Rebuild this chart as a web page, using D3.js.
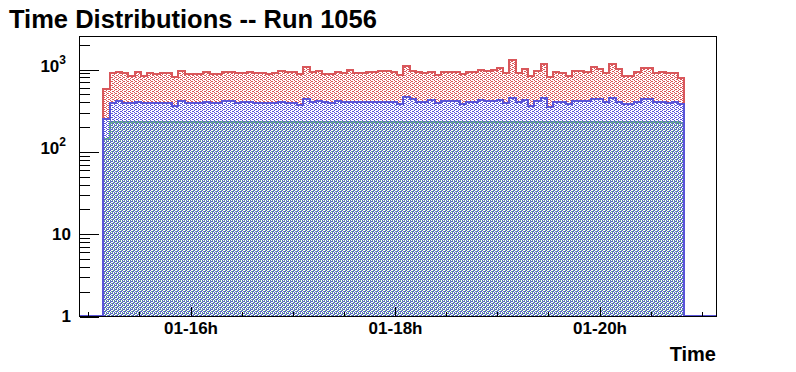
<!DOCTYPE html>
<html>
<head>
<meta charset="utf-8">
<script src="https://cdn.jsdelivr.net/npm/d3@7"></script>
<style>
  body { margin: 0; background: #fff; }
  svg text { font-family: "Liberation Sans", Arial, Helvetica, sans-serif; font-weight: bold; fill: #000; }
</style>
</head>
<body>
<div id="chart"></div>
<script>
'use strict'

////////////////////////////////////
/////////////// data ///////////////
////////////////////////////////////

const day = '2000-01-01'
const axisStart = '14:54:50'
const axisEnd = '21:08:38'
const histStart = '15:09:07'   // low edge of the first filled bin
const binSeconds = 220

const redCounts = [
    567, 902, 920, 902, 829, 920, 829, 902, 862, 902,
    887, 806, 954, 862, 877, 877, 920, 877, 862, 920,
    920, 902, 887, 910, 887, 887, 862, 902, 946, 920,
    920, 862, 1067, 928, 946, 870, 862, 920, 902, 973,
    902, 902, 920, 920, 946, 946, 920, 839, 1088, 946,
    920, 902, 928, 846, 920, 920, 920, 862, 920, 920,
    973, 946, 973, 1037, 887, 1286, 902, 1000, 829, 946,
    1141, 806, 928, 887, 829, 954, 954, 928, 1049, 992,
    902, 1141, 992, 829, 829, 928, 1020, 1020, 902, 928,
    902, 902, 784
]

const blueCounts = [
    245, 390, 409, 390, 383, 400, 383, 390, 390, 390,
    390, 355, 409, 390, 390, 390, 400, 390, 383, 409,
    409, 390, 397, 397, 390, 390, 383, 383, 400, 390,
    390, 368, 436, 395, 412, 397, 383, 412, 401, 401,
    401, 401, 401, 401, 401, 401, 401, 373, 462, 429,
    401, 401, 420, 383, 412, 412, 412, 373, 401, 401,
    420, 412, 412, 420, 390, 448, 401, 420, 359, 412,
    448, 349, 401, 394, 373, 412, 412, 412, 429, 429,
    394, 448, 394, 373, 373, 401, 436, 429, 394, 394,
    383, 394, 373
]

const greenCounts = [
    141, 229, 229, 229, 229, 229, 229, 229, 229, 229,
    229, 229, 229, 229, 229, 229, 229, 229, 229, 229,
    229, 229, 229, 229, 229, 229, 229, 229, 229, 229,
    229, 229, 229, 229, 229, 229, 229, 229, 229, 229,
    229, 229, 229, 229, 229, 229, 229, 229, 229, 229,
    229, 229, 229, 229, 229, 229, 229, 229, 229, 229,
    229, 229, 229, 229, 229, 229, 229, 229, 229, 229,
    229, 229, 229, 229, 229, 229, 229, 229, 229, 229,
    229, 229, 229, 229, 229, 229, 229, 229, 229, 229,
    229, 229, 219
]

const xLabelHours = ['16:00:00', '18:00:00', '20:00:00']
const yDecades = [1, 10, 100, 1000]
const yMax = 2518

const titleText = 'Time Distributions -- Run 1056'
const xTitle = 'Time'

////////////////////////////////////
//////////// svg setup /////////////
////////////////////////////////////

const svgWidth = 796
const svgHeight = 372
const frame = { left: 79, right: 716, top: 36, bottom: 316 }

const parse = d3.utcParse('%Y-%m-%d %H:%M:%S')
const at = s => parse(`${day} ${s}`)

const svg = d3.select('#chart')
    .append('svg')
    .attr('width', svgWidth)
    .attr('height', svgHeight)

const x = d3.scaleUtc()
    .domain([at(axisStart), at(axisEnd)])
    .range([frame.left, frame.right])

const y = d3.scaleLog()
    .domain([1, yMax])
    .range([frame.bottom, frame.top])

// stipple fills, pixel sized so overlapping fills line up
const defs = svg.append('defs')

function stipple(id, color, cells) {
    const p = defs.append('pattern')
        .attr('id', id)
        .attr('patternUnits', 'userSpaceOnUse')
        .attr('width', 4)
        .attr('height', 4)
    cells.forEach(([cx, cy]) => {
        p.append('rect')
            .attr('x', cx).attr('y', cy)
            .attr('width', 1).attr('height', 1)
            .attr('fill', color)
            .attr('shape-rendering', 'crispEdges')
    })
}

// dot lattice for red / blue, green dots sit in the gaps
const lattice = [[2, 0], [0, 1], [2, 2], [0, 3], [3, 1], [1, 3]]
const greenDots = [[0, 0], [2, 1], [1, 2], [3, 3]]

const colors = { red: '#d9575b', blue: '#5954d8', green: '#66bb80' }

stipple('fill-red', colors.red, lattice)
stipple('fill-blue', colors.blue, lattice)
stipple('fill-green', colors.green, greenDots)

////////////////////////////////////
///////////// histos ///////////////
////////////////////////////////////

const t0 = at(histStart)
const edge = i => new Date(t0.getTime() + i * binSeconds * 1000)
const px = d => Math.round(x(d))
const yv = v => v > 0 ? Math.round(y(Math.max(v, 1))) : frame.bottom

function outline(counts) {
    const pts = [[px(at(axisStart)), frame.bottom], [px(edge(0)), frame.bottom]]
    counts.forEach((c, i) => {
        pts.push([px(edge(i)), yv(c)], [px(edge(i + 1)), yv(c)])
    })
    pts.push([px(edge(counts.length)), frame.bottom], [px(at(axisEnd)), frame.bottom])
    return pts
}

const line = d3.line()

const plot = svg.append('g')

function drawHisto(counts, color, pattern) {
    const pts = outline(counts)
    plot.append('path')
        .attr('d', line(pts) + 'Z')
        .attr('fill', `url(#${pattern})`)
        .attr('stroke', 'none')
        .attr('shape-rendering', 'crispEdges')
    plot.append('path')
        .attr('d', line(pts))
        .attr('fill', 'none')
        .attr('stroke', color)
        .attr('stroke-width', 2)
        .attr('shape-rendering', 'crispEdges')
}

drawHisto(redCounts, colors.red, 'fill-red')
drawHisto(greenCounts, colors.green, 'fill-green')
drawHisto(blueCounts, colors.blue, 'fill-blue')

////////////////////////////////////
////////////// axes ////////////////
////////////////////////////////////

svg.append('rect')
    .attr('x', frame.left + 0.5)
    .attr('y', frame.top + 0.5)
    .attr('width', frame.right - frame.left)
    .attr('height', frame.bottom - frame.top)
    .attr('fill', 'none')
    .attr('stroke', '#000')
    .attr('stroke-width', 1)
    .attr('shape-rendering', 'crispEdges')

const fmt = d3.utcFormat('%d-%Hh')
const labelTicks = xLabelHours.map(at)
const minorTicks = d3.utcMinute.every(30).range(at(axisStart), at(axisEnd))
    .filter(d => !labelTicks.some(t => +t === +d))

svg.append('g')
    .attr('transform', `translate(0.5,${frame.bottom + 0.5})`)
    .call(d3.axisBottom(x).tickValues(minorTicks).tickSize(-5).tickFormat(''))

const xMajor = svg.append('g')
    .attr('transform', `translate(0.5,${frame.bottom + 0.5})`)
    .call(d3.axisBottom(x).tickValues(labelTicks).tickSize(-10).tickPadding(5).tickFormat(fmt))

const yMinorVals = []
yDecades.forEach(d => {
    for (let k = 2; k <= 9; k++) if (d * k <= yMax) yMinorVals.push(d * k)
})

svg.append('g')
    .attr('transform', `translate(${frame.left + 0.5},0.5)`)
    .call(d3.axisLeft(y).tickValues(yMinorVals).tickSize(-10).tickFormat(''))

svg.append('g')
    .attr('transform', `translate(${frame.left + 0.5},0.5)`)
    .call(d3.axisLeft(y).tickValues(yDecades).tickSize(-19).tickFormat(''))

svg.selectAll('.domain').remove()
svg.selectAll('.tick line').attr('stroke', '#000').attr('shape-rendering', 'crispEdges')

xMajor.selectAll('text')
    .attr('font-size', 17)
    .style('font-family', '"Liberation Sans", Arial, sans-serif')
    .style('font-weight', 'bold')

// y labels: 1, 10, 10^2, 10^3
yDecades.forEach(d => {
    const exp = Math.round(Math.log10(d))
    const ty = y(d)
    if (exp < 2) {
        svg.append('text')
            .attr('x', 71)
            .attr('y', ty + 6)
            .attr('text-anchor', 'end')
            .attr('font-size', 17)
            .text(String(d))
    } else {
        const t = svg.append('text')
            .attr('x', 66)
            .attr('y', ty + 3)
            .attr('text-anchor', 'end')
            .attr('font-size', 17)
        t.append('tspan').text('10')
        t.append('tspan').attr('font-size', 12).attr('dy', -8).text(String(exp))
    }
})

////////////////////////////////////
////////////// titles //////////////
////////////////////////////////////

svg.append('text')
    .attr('x', 9)
    .attr('y', 28)
    .attr('font-size', 25.5)
    .text(titleText)

svg.append('text')
    .attr('x', frame.right)
    .attr('y', 361)
    .attr('text-anchor', 'end')
    .attr('font-size', 20)
    .text(xTitle)
</script>
</body>
</html>
